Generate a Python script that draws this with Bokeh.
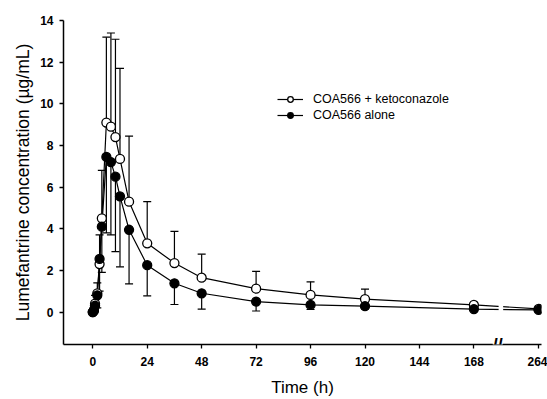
from bokeh.plotting import figure
from bokeh.models import (ColumnDataSource, Whisker, TeeHead, FixedTicker, Legend,
                          LegendItem, Label, BoxAnnotation, Title)
from bokeh.embed import file_html
from bokeh.resources import INLINE

# ---- data ----
time_h = [0, 0.5, 1, 2, 3, 4, 6, 8, 10, 12, 16, 24, 36, 48, 72, 96, 120, 168, 264]
keto_mean = [0.0, 0.1, 0.4, 0.9, 2.3, 4.5, 9.1, 8.9, 8.4, 7.35, 5.3, 3.3, 2.35, 1.65,
             1.12, 0.82, 0.62, 0.34, 0.15]
keto_upper = [0.0, 0.3, 0.8, 1.4, 3.7, 6.8, 13.2, 13.4, 13.1, 11.7, 8.45, 5.3, 3.87,
              2.78, 1.95, 1.45, 1.1, 0.45, 0.2]
alone_mean = [0.0, 0.05, 0.3, 0.8, 2.55, 4.1, 7.45, 7.2, 6.5, 5.55, 3.95, 2.25, 1.38,
              0.9, 0.5, 0.34, 0.28, 0.14, 0.1]
alone_lower = [0.0, 0.0, 0.05, 0.2, 1.0, 1.9, 3.8, 3.7, 2.9, 2.17, 1.35, 0.78, 0.36,
               0.14, 0.05, 0.12, 0.15, 0.05, 0.05]
x_ticks = [0, 24, 48, 72, 96, 120, 144, 168, 264]
y_ticks = [0, 2, 4, 6, 8, 10, 12, 14]
series_names = ["COA566 + ketoconazole", "COA566 alone"]
x_title = "Time (h)"
y_title = "Lumefantrine concentration (\u00b5g/mL)"

# broken time axis: times after 168 h are compressed
BREAK_FROM = 168
COMPRESS = 0.297
BREAK_MARK = 178.5


def xpos(t):
    return t if t <= BREAK_FROM else BREAK_FROM + (t - BREAK_FROM) * COMPRESS


xs = [xpos(t) for t in time_h]
src_k = ColumnDataSource(dict(x=xs, y=keto_mean, up=keto_upper))
src_a = ColumnDataSource(dict(x=xs, y=alone_mean, lo=alone_lower))

FONT = "Liberation Sans"

p = figure(width=547, height=399, output_backend="svg", toolbar_location=None,
           x_range=(-12.9, 197.8), y_range=(-1.56, 14))
p.min_border_left = 63
p.min_border_right = 6
p.min_border_top = 20
p.min_border_bottom = 54
p.outline_line_color = None
p.xgrid.visible = False
p.ygrid.visible = False

# error bars
wk = Whisker(source=src_k, base="x", lower="y", upper="up", dimension="height",
             line_color="black", line_width=1.2,
             upper_head=TeeHead(size=8, line_color="black", line_width=1.2),
             lower_head=None)
wa = Whisker(source=src_a, base="x", lower="lo", upper="y", dimension="height",
             line_color="black", line_width=1.2,
             lower_head=TeeHead(size=8, line_color="black", line_width=1.2),
             upper_head=None)
p.add_layout(wk)
p.add_layout(wa)

lk = p.line("x", "y", source=src_k, line_color="black", line_width=1.2)
la = p.line("x", "y", source=src_a, line_color="black", line_width=1.2)

# gap in the lines at the axis break
p.add_layout(BoxAnnotation(left=BREAK_MARK + 0.4, right=BREAK_MARK + 2.4,
                           bottom=-0.5, top=1.0, fill_color="white", fill_alpha=1,
                           line_alpha=0, level="overlay"))

sk = p.scatter("x", "y", source=src_k, size=9, marker="circle", fill_color="white",
               line_color="black", line_width=1.3)
sa = p.scatter("x", "y", source=src_a, size=9, marker="circle", fill_color="black",
               line_color="black", line_width=1.3)

# axes
p.xaxis.ticker = FixedTicker(ticks=[xpos(t) for t in x_ticks])
p.xaxis.major_label_overrides = {xpos(t): str(t) for t in x_ticks}
p.yaxis.ticker = FixedTicker(ticks=y_ticks)
for ax in (p.xaxis, p.yaxis):
    ax.axis_line_color = "black"
    ax.axis_line_width = 1.5
    ax.major_tick_line_color = "black"
    ax.major_tick_line_width = 1.3
    ax.major_tick_out = 4
    ax.major_tick_in = 0
    ax.minor_tick_line_color = None
    ax.major_label_text_font = FONT
    ax.major_label_text_font_size = "12px"
    ax.major_label_text_font_style = "bold"
    ax.major_label_text_color = "black"
    ax.axis_label_text_font = FONT
    ax.axis_label_text_font_style = "normal"
    ax.axis_label_text_color = "black"
p.xaxis.axis_label = x_title
p.xaxis.axis_label_text_font_size = "17px"
p.xaxis.major_label_standoff = 8
p.xaxis.axis_label_standoff = 9
p.yaxis.major_label_standoff = 6

# y-axis title in the left panel
ytitle = Title(text=y_title, align="center", offset=0, standoff=9,
               text_font=FONT, text_font_size="17.5px", text_font_style="normal",
               text_color="black")
p.add_layout(ytitle, "left")

# axis break mark
p.add_layout(Label(x=BREAK_MARK, y=-1.56, text="//", text_align="center",
                   text_baseline="middle", text_font=FONT, text_font_size="18px",
                   text_font_style="bold", text_color="black",
                   background_fill_color="white", background_fill_alpha=1,
                   level="overlay"))

legend = Legend(items=[LegendItem(label=series_names[0], renderers=[lk, sk]),
                       LegendItem(label=series_names[1], renderers=[la, sa])],
                location=(214, 222), border_line_alpha=0, background_fill_alpha=0,
                padding=0, margin=0, spacing=2, glyph_width=26, glyph_height=14,
                label_height=14, label_standoff=10, label_text_font=FONT,
                label_text_font_size="12.5px", label_text_color="black")
p.add_layout(legend)

open("out.html", "w").write(file_html(p, INLINE))
